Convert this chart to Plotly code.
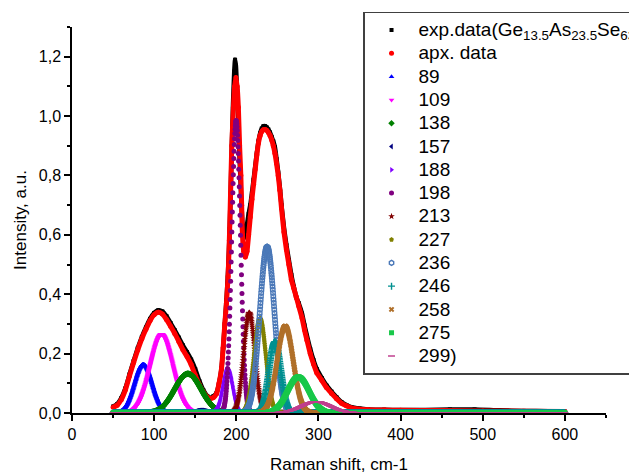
import numpy as np
import plotly.graph_objects as go

# ---------------- data ----------------
exp_x = [50, 55, 60, 65, 70, 75, 80, 85, 90, 95, 100, 105, 110, 115, 120, 125, 130, 135,
         140, 145, 150, 155, 160, 165, 168, 172, 176, 179, 182, 184, 186, 188, 190, 192,
         194, 196, 197.5, 198.5, 199.5, 201, 203, 205, 207, 209, 211, 213, 215, 217, 219,
         221, 223, 225, 227, 229, 231, 233, 235, 237, 239, 241, 243, 245, 247, 249, 251,
         253, 255, 258, 261, 264, 267, 270, 273, 276, 280, 283, 286, 290, 294, 298, 304,
         310, 316, 322, 328, 334, 340, 350, 360, 380, 400, 430, 460, 490, 520, 550, 580, 600]
exp_y = [0.022, 0.03, 0.05, 0.083, 0.13, 0.175, 0.218, 0.256, 0.288, 0.317, 0.337, 0.346,
         0.342, 0.326, 0.303, 0.279, 0.254, 0.228, 0.205, 0.18, 0.148, 0.108, 0.076, 0.056,
         0.051, 0.056, 0.068, 0.10, 0.15, 0.22, 0.30, 0.38, 0.48, 0.62, 0.84, 1.04, 1.15,
         1.19, 1.17, 1.08, 0.93, 0.79, 0.66, 0.59, 0.60, 0.635, 0.67, 0.70, 0.74, 0.785,
         0.83, 0.875, 0.915, 0.942, 0.958, 0.966, 0.966, 0.962, 0.955, 0.945, 0.93, 0.915,
         0.895, 0.855, 0.81, 0.76, 0.70, 0.625, 0.565, 0.515, 0.465, 0.425, 0.39, 0.37,
         0.335, 0.295, 0.26, 0.215, 0.178, 0.148, 0.118, 0.092, 0.072, 0.053, 0.037, 0.027,
         0.02, 0.015, 0.012, 0.011, 0.01, 0.01, 0.012, 0.012, 0.009, 0.007, 0.006, 0.005]

apx_x = [50, 55, 60, 65, 70, 75, 80, 85, 90, 95, 100, 105, 110, 115, 120, 125, 130, 135,
         140, 145, 150, 155, 160, 165, 168, 172, 176, 179, 182, 184, 186, 188, 190, 191.5,
         193, 194.5, 196.5, 198, 199.5, 201, 202.5, 204, 205.5, 206.5, 207.5, 209, 211,
         213, 215, 217, 219, 221, 223, 225, 227, 229, 231, 233, 235, 237, 239, 241, 243,
         245, 247, 249, 251, 253, 255, 258, 261, 264, 267, 270, 273, 276, 280, 283, 286,
         290, 294, 298, 304, 310, 316, 322, 328, 334, 340, 350, 360, 380, 400, 450, 500,
         550, 600]
apx_y = [0.019, 0.026, 0.045, 0.078, 0.125, 0.17, 0.212, 0.25, 0.282, 0.311, 0.331, 0.339,
         0.333, 0.315, 0.292, 0.268, 0.241, 0.213, 0.19, 0.163, 0.127, 0.095, 0.07, 0.053,
         0.049, 0.052, 0.065, 0.10, 0.15, 0.22, 0.30, 0.37, 0.46, 0.58, 0.74, 0.90, 1.03,
         1.10, 1.13, 1.10, 1.03, 0.90, 0.80, 0.70, 0.60, 0.545, 0.525, 0.545, 0.60, 0.66,
         0.72, 0.77, 0.82, 0.87, 0.91, 0.935, 0.948, 0.954, 0.955, 0.952, 0.945, 0.935,
         0.92, 0.90, 0.875, 0.84, 0.80, 0.75, 0.69, 0.61, 0.55, 0.50, 0.45, 0.42, 0.39,
         0.36, 0.32, 0.28, 0.245, 0.20, 0.165, 0.135, 0.11, 0.085, 0.066, 0.048, 0.033,
         0.024, 0.017, 0.013, 0.011, 0.01, 0.009, 0.008, 0.007, 0.006, 0.005]

# fitted Gaussian components (legend label, centre, height, FWHM)
peak_labels = ["89", "109", "138", "157", "188", "198", "213", "227", "236", "246", "258", "275", "299)"]
peak_centers = [86.8, 109, 141, 157, 189.5, 199.8, 215.8, 228.8, 237.5, 247, 259.5, 275.5, 297]
peak_heights = [0.163, 0.265, 0.132, 0.008, 0.148, 0.985, 0.337, 0.318, 0.56, 0.239, 0.292, 0.121, 0.038]
peak_fwhm = [25, 33, 38, 15, 14, 12.5, 16, 17, 21, 17, 23, 31, 42]

x_ticks = [0, 100, 200, 300, 400, 500, 600]
y_ticks = [0.0, 0.2, 0.4, 0.6, 0.8, 1.0, 1.2]
y_tick_labels = ["0,0", "0,2", "0,4", "0,6", "0,8", "1,0", "1,2"]

# ---------------- styles ----------------
peak_colors = ["#0000ff", "#ff00ff", "#008000", "#000080", "#8000ff", "#800080", "#800000",
               "#808000", "#4a78b8", "#009090", "#b0702a", "#19c84a", "#c0408f"]
peak_symbols = ["triangle-up", "triangle-down", "diamond", "triangle-left", "triangle-right",
                "circle", "star", "pentagon", "hexagon-open", "cross-thin-open", "x",
                "square", "line-ew-open"]

grid = np.arange(50, 600.01, 0.3)


def big(t):
    return '<span style="font-size:19px">' + t + '</span>'


fig = go.Figure()

fig.add_trace(go.Scatter(x=exp_x, y=exp_y, mode="lines",
                         line=dict(color="black", width=4.5, shape="spline", smoothing=0.5),
                         showlegend=False, hoverinfo="skip"))
fig.add_trace(go.Scatter(x=exp_x, y=exp_y, mode="markers",
                         marker=dict(symbol="square", size=4, color="black"),
                         name=big("exp.data(Ge<sub>13.5</sub>As<sub>23.5</sub>Se<sub>63</sub>)")))
fig.add_trace(go.Scatter(x=apx_x, y=apx_y, mode="lines",
                         line=dict(color="#ff0000", width=5, shape="spline", smoothing=0.5),
                         showlegend=False, hoverinfo="skip"))
fig.add_trace(go.Scatter(x=apx_x, y=apx_y, mode="markers",
                         marker=dict(symbol="circle", size=5, color="#ff0000"),
                         name=big("apx. data")))

for lab, c, h, w, col, sym in zip(peak_labels, peak_centers, peak_heights, peak_fwhm,
                                  peak_colors, peak_symbols):
    yv = h * np.exp(-4 * np.log(2) * ((grid - c) / w) ** 2)
    mk = dict(symbol=sym, size=5, color=col)
    if sym.endswith("open"):
        mk["line"] = dict(color=col, width=1.4)
    fig.add_trace(go.Scatter(x=grid, y=yv, mode="markers", marker=mk, name=big(lab)))

axis_font = dict(family="Liberation Sans, Arial, sans-serif", size=16, color="black")

fig.update_layout(
    width=629, height=476,
    margin=dict(l=72, r=23, t=27, b=63, autoexpand=False),
    paper_bgcolor="white", plot_bgcolor="white",
    font=dict(family="Liberation Sans, Arial, sans-serif", color="black"),
    showlegend=True,
    legend=dict(x=0.545, y=1.039, xanchor="left", yanchor="top",
                bgcolor="white", bordercolor="#404040", borderwidth=1.5,
                font=dict(size=15.6, family="Liberation Sans, Arial, sans-serif", color="black"),
                itemwidth=44, tracegroupgap=0, maxheight=470),
    xaxis=dict(range=[0, 650], tickvals=x_ticks, ticktext=[str(v) for v in x_ticks],
               ticks="outside", ticklen=6, tickwidth=1.5, tickcolor="black",
               showline=True, linewidth=1.5, linecolor="black", mirror=False,
               showgrid=False, zeroline=False, tickfont=axis_font,
               minor=dict(tickvals=[50, 150, 250, 350, 450, 550, 650], ticks="outside",
                          ticklen=3.5, tickwidth=1.5, tickcolor="black", showgrid=False),
               title=dict(text="Raman shift, cm-1", font=dict(size=17), standoff=16)),
    yaxis=dict(range=[0, 1.3], tickvals=y_ticks, ticktext=y_tick_labels,
               ticks="outside", ticklen=6, tickwidth=1.5, tickcolor="black",
               showline=True, linewidth=1.5, linecolor="black", mirror=False,
               showgrid=False, zeroline=False, tickfont=axis_font,
               minor=dict(tickvals=[0.1, 0.3, 0.5, 0.7, 0.9, 1.1, 1.3], ticks="outside",
                          ticklen=3.5, tickwidth=1.5, tickcolor="black", showgrid=False),
               title=dict(text="Intensity, a.u.", font=dict(size=17), standoff=8)),
)

fig.write_html("out.html")
